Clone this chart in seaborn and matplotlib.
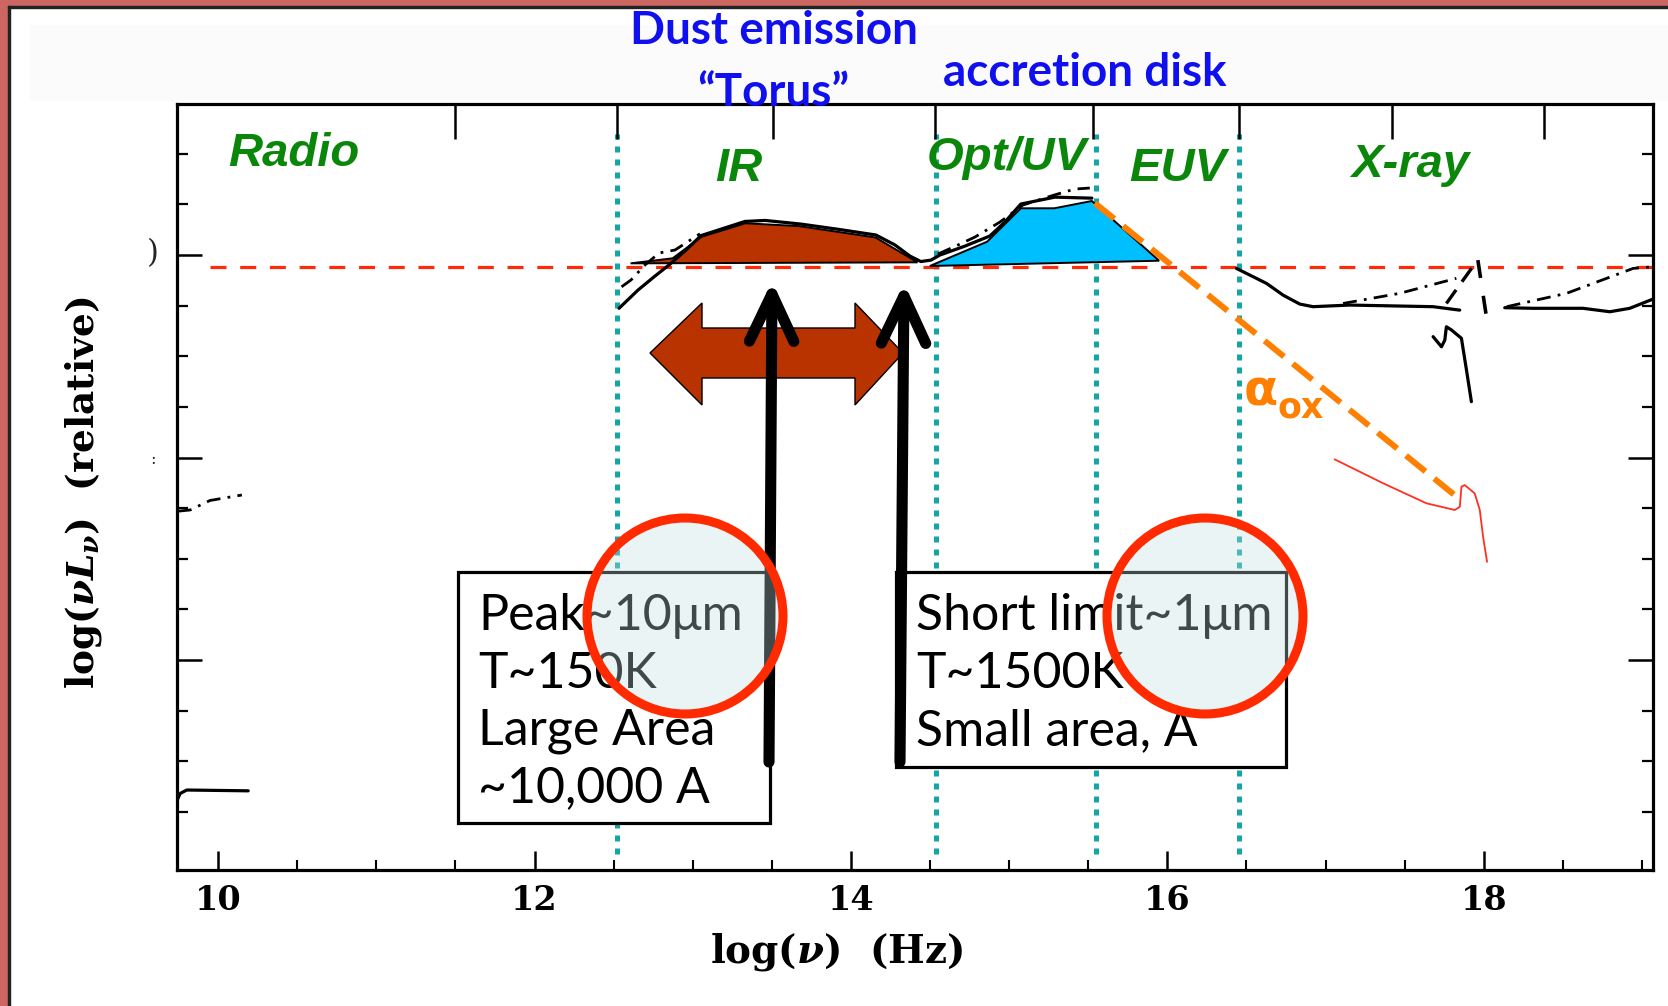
import numpy as np
import pandas as pd
import seaborn as sns
import matplotlib
matplotlib.use("Agg")
import matplotlib.pyplot as plt
from matplotlib.patches import Rectangle, Ellipse, Polygon
from matplotlib.transforms import Affine2D

# ---------------- data (log nu, log nuLnu relative) ----------------
ir_bump_x = [12.607, 12.873, 13.055, 13.333, 13.671, 14.155, 14.421]
ir_bump_y = [-0.041, -0.016, 0.090, 0.157, 0.143, 0.087, -0.036]

uv_bump_x = [14.499, 14.861, 15.074, 15.286, 15.523, 15.948]
uv_bump_y = [-0.054, 0.066, 0.231, 0.231, 0.267, -0.028]

sed_solid_x = [12.534, 12.654, 12.761, 12.850, 12.951, 13.052, 13.330, 13.457, 13.684,
               13.930, 14.158, 14.278, 14.373, 14.442, 14.506, 14.562, 14.720, 14.878,
               14.973, 15.074, 15.289, 15.523]
sed_solid_y = [-0.263, -0.173, -0.104, -0.049, 0.020, 0.096, 0.166, 0.171, 0.153,
               0.126, 0.099, 0.050, -0.005, -0.032, -0.025, 0.000, 0.044, 0.094,
               0.163, 0.252, 0.286, 0.281]

sed_dd_ir_x = [12.550, 12.610, 12.698, 12.787, 12.888, 13.046]
sed_dd_ir_y = [-0.157, -0.123, -0.049, 0.010, 0.025, 0.105]

sed_dd_uv_x = [14.550, 14.689, 14.784, 14.942, 15.087, 15.283, 15.415, 15.510]
sed_dd_uv_y = [0.005, 0.054, 0.089, 0.163, 0.247, 0.296, 0.326, 0.331]

xray_solid1_x = [16.437, 16.627, 16.732, 16.837, 16.921, 17.153, 17.680, 17.848]
xray_solid1_y = [-0.066, -0.140, -0.198, -0.242, -0.255, -0.247, -0.255, -0.272]
xray_solid2_x = [18.133, 18.312, 18.628, 18.797, 18.923, 19.081]
xray_solid2_y = [-0.260, -0.263, -0.263, -0.280, -0.263, -0.214]

xray_dd1_x = [17.111, 17.469, 17.827]
xray_dd1_y = [-0.239, -0.189, -0.115]
xray_edge_l_x = [17.764, 17.954]
xray_edge_l_y = [-0.239, -0.032]
xray_edge_r_x = [17.963, 18.017]
xray_edge_r_y = [-0.025, -0.305]
xray_dd2_x = [18.145, 18.524, 18.944, 19.070]
xray_dd2_y = [-0.255, -0.189, -0.066, -0.058]

squiggle_x = [17.680, 17.733, 17.754, 17.764, 17.796, 17.859, 17.891, 17.922]
squiggle_y = [-0.403, -0.453, -0.420, -0.354, -0.370, -0.411, -0.568, -0.724]

red_curve_x = [17.058, 17.364, 17.638, 17.817, 17.849, 17.859, 17.880, 17.943, 17.975, 17.996, 18.021]
red_curve_y = [-1.009, -1.127, -1.226, -1.259, -1.243, -1.144, -1.136, -1.177, -1.259, -1.391, -1.515]

radio_dd_x = [9.745, 9.823, 9.949, 10.150]
radio_dd_y = [-1.265, -1.259, -1.212, -1.185]
radio_solid_x = [9.739, 9.760, 9.802, 10.190]
radio_solid_y = [-2.696, -2.659, -2.642, -2.646]

alpha_ox_x = [15.542, 17.823]
alpha_ox_y = [0.257, -1.190]

ref_level_x = [9.95, 19.07]
ref_level_y = [-0.06, -0.06]

band_edges = [12.52, 14.54, 15.55, 16.45]

xtick_major = [10, 12, 14, 16, 18]
xtick_labels = ["10", "12", "14", "16", "18"]
xtick_minor = list(np.arange(10, 19.01, 0.5))
top_ticks = [11.50, 12.52, 13.51, 14.53, 15.53, 16.45, 17.42, 18.38]
ytick_major = [0, -1, -2]
ytick_minor = list(np.arange(-2.75, 0.51, 0.25))

# ---------------- figure ----------------
sns.set_theme(style="white")
plt.rcParams["font.family"] = ["DejaVu Sans"]
plt.rcParams["mathtext.fontset"] = "custom"
plt.rcParams["mathtext.rm"] = "DejaVu Serif:bold"
plt.rcParams["mathtext.it"] = "DejaVu Serif:italic:bold"
plt.rcParams["mathtext.bf"] = "DejaVu Serif:bold"

W, H = 1668, 1006
fig = plt.figure(figsize=(W / 100, H / 100), dpi=100)
fig.patch.set_facecolor("white")
PX = Affine2D().scale(1 / W, -1 / H).translate(0, 1) + fig.transFigure

# slide frame
fig.add_artist(Rectangle((0, 0), 8, H, transform=PX, color="#cc6660", zorder=-10))
fig.add_artist(Rectangle((0, 0), W, 6, transform=PX, color="#cc6660", zorder=-10))
fig.add_artist(Rectangle((8, 6), 2, H, transform=PX, color="#222222", zorder=-9))
fig.add_artist(Rectangle((8, 6), W, 1.5, transform=PX, color="#222222", zorder=-9))
fig.add_artist(Rectangle((30, 25), W - 30, 75, transform=PX, color="#fbfbfb", zorder=-9))

ax = fig.add_axes([177 / W, 1 - 870 / H, (1653 - 177) / W, (870 - 104) / H])
ax.set_facecolor("white")
for s in ax.spines.values():
    s.set_color("black")
    s.set_linewidth(2.3)
    s.set_visible(True)

# reference lines
ax.vlines(band_edges, -2.96, 0.60, colors="#14a6a6", linewidth=3.6,
          linestyles=[(0, (1.2, 1.4))], zorder=2)
sns.lineplot(x=ref_level_x, y=ref_level_y, ax=ax, color="#ff2a0a", linewidth=2.3,
             linestyle=(0, (5, 4.3)), sort=False, estimator=None, zorder=2.5)

# bumps
ax.fill(ir_bump_x, ir_bump_y, facecolor="#b83300", edgecolor="black", linewidth=1.4, zorder=3)
ax.fill(uv_bump_x, uv_bump_y, facecolor="#00bfff", edgecolor="black", linewidth=1.4, zorder=3)

# SED curves
solid_kw = dict(ax=ax, color="black", linewidth=2.3, sort=False, estimator=None, zorder=4)
dd_kw = dict(ax=ax, color="black", linewidth=2.0, sort=False, estimator=None, zorder=4,
             linestyle=(0, (5, 2.6, 1, 2.6)))
sns.lineplot(x=sed_solid_x, y=sed_solid_y, **solid_kw)
sns.lineplot(x=xray_solid1_x, y=xray_solid1_y, **solid_kw)
sns.lineplot(x=xray_solid2_x, y=xray_solid2_y, **solid_kw)
sns.lineplot(x=squiggle_x, y=squiggle_y, **solid_kw)
sns.lineplot(x=radio_solid_x, y=radio_solid_y, **solid_kw)
sns.lineplot(x=sed_dd_ir_x, y=sed_dd_ir_y, **dd_kw)
sns.lineplot(x=sed_dd_uv_x, y=sed_dd_uv_y, **dd_kw)
sns.lineplot(x=xray_dd1_x, y=xray_dd1_y, **dd_kw)
sns.lineplot(x=xray_dd2_x, y=xray_dd2_y, **dd_kw)
sns.lineplot(x=radio_dd_x, y=radio_dd_y, **dd_kw)
sns.lineplot(x=xray_edge_l_x, y=xray_edge_l_y, ax=ax, color="black", linewidth=2.4,
             linestyle=(0, (5, 3)), sort=False, estimator=None, zorder=4)
sns.lineplot(x=xray_edge_r_x, y=xray_edge_r_y, ax=ax, color="black", linewidth=2.6,
             linestyle=(0, (5, 5)), sort=False, estimator=None, zorder=4)

# alpha_ox line and red curve
sns.lineplot(x=alpha_ox_x, y=alpha_ox_y, ax=ax, color="#ff8000", linewidth=4.3,
             linestyle=(0, (4.2, 1.9)), sort=False, estimator=None, zorder=4.5)
sns.lineplot(x=red_curve_x, y=red_curve_y, ax=ax, color="#ff3020", linewidth=1.3,
             sort=False, estimator=None, zorder=4.5)

# brown double-headed arrow
darrow = [(650, 353), (702, 303), (702, 328), (855, 328), (855, 303), (903, 353),
          (855, 405), (855, 378), (702, 378), (702, 405)]
ax.add_patch(Polygon(darrow, closed=True, transform=PX, facecolor="#b83300",
                     edgecolor="black", linewidth=1.0, zorder=5))

# text boxes
box_font = dict(fontsize=36, family=["Lato", "DejaVu Sans"], weight="normal",
                color="black", va="baseline", ha="left", transform=PX, zorder=9)
ax.add_patch(Rectangle((458, 572), 312, 251, transform=PX, facecolor="white",
                       edgecolor="black", linewidth=2.3, zorder=8, clip_on=False))
for yb, s in zip([630, 688, 745, 802], ["Peak~10\u03bcm", "T~150K", "Large Area", "~10,000 A"]):
    ax.text(478, yb, s, **box_font)
ax.add_patch(Rectangle((896, 572), 390, 195, transform=PX, facecolor="white",
                       edgecolor="black", linewidth=2.3, zorder=8, clip_on=False))
for yb, s in zip([630, 688, 745], ["Short limit~1\u03bcm", "T~1500K", "Small area, A"]):
    ax.text(916, yb, s, **box_font)

# black arrows
for (xb, yb), (xt, yt) in [((769, 762), (772, 281)), ((900, 762), (904, 283))]:
    ax.annotate("", xy=(xt, yt), xytext=(xb, yb), xycoords=PX, textcoords=PX,
                arrowprops=dict(arrowstyle="->,head_length=3.4,head_width=1.6",
                                color="black", lw=8, shrinkA=0, shrinkB=0,
                                mutation_scale=10, capstyle="round", joinstyle="round"),
                zorder=10)

# red circles (translucent fill)
for cx in [685, 1205]:
    ax.add_patch(Ellipse((cx, 616), 196, 196, transform=PX,
                         facecolor=(0.76, 0.87, 0.87, 0.33), edgecolor="#ff2a00",
                         linewidth=6.5, zorder=11, clip_on=False))

# green band labels
green = dict(transform=PX, ha="center", va="baseline", fontsize=34, family="Liberation Sans",
             weight="bold", style="italic", color="#0a870a", zorder=12)
ax.text(294, 166, "Radio", **green)
ax.text(739, 181, "IR", **green)
ax.text(1007, 170, "Opt/UV", **green)
ax.text(1178, 181, "EUV", **green)
ax.text(1410, 177, "X-ray", **green)

# alpha_ox label
ax.text(1244, 405, "\u03b1", transform=PX, fontsize=36, color="#ff8000", weight="bold",
        ha="left", va="baseline", zorder=12)
ax.text(1278, 417, "ox", transform=PX, fontsize=25, color="#ff8000", weight="bold",
        ha="left", va="baseline", zorder=12)

# ticks
ax.set_xlim(9.74, 19.07)
ax.set_ylim(-3.037, 0.746)
ax.set_xticks(xtick_major)
ax.set_xticklabels(xtick_labels)
ax.set_xticks(xtick_minor, minor=True)
ax.set_yticks(ytick_major)
ax.set_yticks(ytick_minor, minor=True)
ax.tick_params(axis="x", which="major", direction="in", length=14, width=1.8, color="black",
               bottom=True, top=False, labelsize=24, pad=10, labelcolor="black")
ax.tick_params(axis="x", which="minor", direction="in", length=7, width=1.5, color="black",
               bottom=True, top=False)
ax.tick_params(axis="y", which="major", direction="in", length=18, width=1.8, color="black",
               left=True, right=True, labelleft=False)
ax.tick_params(axis="y", which="minor", direction="in", length=8, width=1.6, color="black",
               left=True, right=True)
for lab in ax.get_xticklabels():
    lab.set_fontfamily("DejaVu Serif")
    lab.set_fontweight("bold")
ax.set_xlabel("")
ax.set_ylabel("")

ax2 = ax.twiny()
ax2.set_xlim(ax.get_xlim())
ax2.set_xticks(top_ticks)
ax2.tick_params(axis="x", which="major", direction="in", length=25, width=1.8, color="black",
                top=True, bottom=False, labeltop=False, labelbottom=False)
ax2.tick_params(axis="x", which="minor", top=False, bottom=False)
ax2.grid(False)
for s in ax2.spines.values():
    s.set_visible(False)

# axis titles and header text
fig.text(837, 952, r"$\mathrm{log}(\nu)\ \ (\mathrm{Hz})$", transform=PX, fontsize=28,
         ha="center", va="center", color="black")
fig.text(84, 493, r"$\mathrm{log}(\nu L_\nu)\ \ (\mathrm{relative})$", transform=PX,
         fontsize=27, rotation=90, ha="center", va="center", color="black")
fig.text(153, 254, ")", transform=PX, fontsize=22, family="DejaVu Serif", ha="center", va="center")
fig.text(153, 460, ":", transform=PX, fontsize=12, family="DejaVu Serif", ha="center", va="center")

blue = dict(transform=PX, ha="center", va="baseline", fontsize=33,
            family=["Lato", "DejaVu Sans"], weight="bold", color="#1010ee")
fig.text(774, 44, "Dust emission", **blue)
fig.text(773, 106, "\u201cTorus\u201d", **blue)
fig.text(1085, 86, "accretion disk", **blue)

fig.savefig("out.png", dpi=100)
